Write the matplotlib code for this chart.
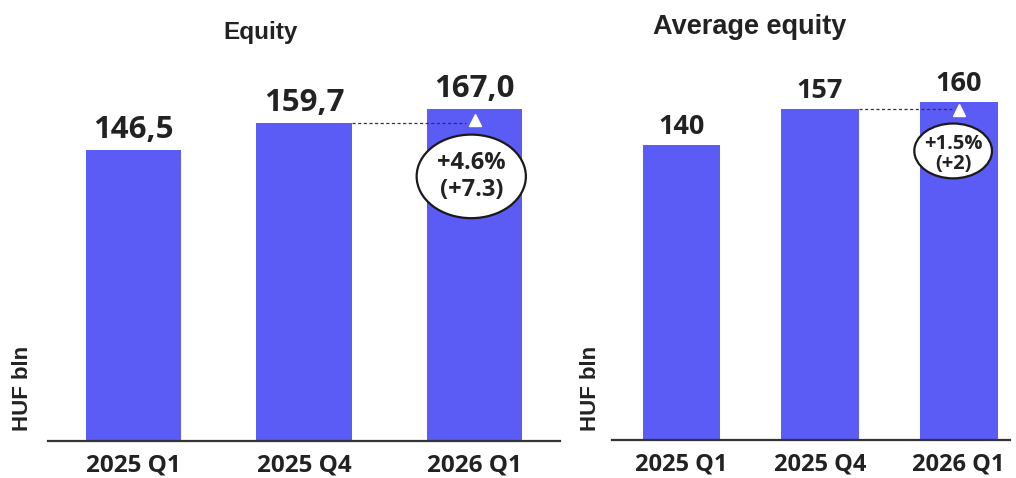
import matplotlib
matplotlib.use("Agg")
import matplotlib.pyplot as plt
from matplotlib.patches import Ellipse
from matplotlib import transforms

# Data
categories = ["2025 Q1", "2025 Q4", "2026 Q1"]
equity = [146.5, 159.7, 167.0]
equity_labels = ["146,5", "159,7", "167,0"]
equity_change = ["+4.6%", "(+7.3)"]
avg_equity = [140, 157, 160]
avg_equity_labels = ["140", "157", "160"]
avg_equity_change = ["+1.5%", "(+2)"]

BAR = "#5b5bf6"
TXT = "#222222"
NUM_FONT = ["Open Sans", "DejaVu Sans"]
HEAD_FONT = ["Liberation Sans", "DejaVu Sans"]

fig = plt.figure(figsize=(10.16, 4.78), dpi=100)


def panel(rect, values, labels, change, xlim, ylim, val_size, tick_size,
          ell_w, ell_h, ell_dx, ell_dy, chg_size, chg_dy, chg_shift, tri_dy):
    ax = fig.add_axes(rect)
    x = list(range(len(values)))
    w = 0.56
    ax.bar(x, values, width=w, color=BAR, zorder=2)
    ax.set_xlim(*xlim)
    ax.set_ylim(*ylim)
    for s in ("top", "left", "right"):
        ax.spines[s].set_visible(False)
    ax.spines["bottom"].set_color("#333333")
    ax.spines["bottom"].set_linewidth(1.6)
    ax.set_yticks([])
    ax.set_xticks(x)
    ax.set_xticklabels(categories, fontsize=tick_size, family=NUM_FONT,
                       fontweight="bold", color=TXT)
    ax.tick_params(axis="x", length=0, pad=9)

    for xi, v, lab in zip(x, values, labels):
        ax.annotate(lab, (xi, v), xytext=(0, 5), textcoords="offset pixels",
                    ha="center", va="bottom", fontsize=val_size,
                    family=NUM_FONT, fontweight="bold", color=TXT)

    # dashed reference line from previous quarter to the latest bar
    prev = values[-2]
    ax.plot([x[-2] + w / 2, x[-1] - 0.05], [prev, prev], ls=(0, (2.5, 2)),
            color="#333333", lw=0.9, zorder=3)

    # upward triangle marker on the latest bar
    tri_tr = transforms.offset_copy(ax.transData, fig=fig, x=0, y=tri_dy,
                                    units="dots")
    ax.plot([x[-1]], [values[-1]], marker="^", color="white", ms=9,
            transform=tri_tr, zorder=4, mec="white")

    # change bubble
    cx = x[-1] + ell_dx
    cy = values[-1] + ell_dy
    ax.add_patch(Ellipse((cx, cy), ell_w, ell_h, facecolor="white",
                         edgecolor="#1a1a1a", lw=1.6, zorder=4))
    ax.text(cx, cy + chg_dy - chg_shift, change[0], ha="center", va="center",
            fontsize=chg_size, family=NUM_FONT, fontweight="bold",
            color=TXT, zorder=5)
    ax.text(cx, cy - chg_dy - chg_shift, change[1], ha="center", va="center",
            fontsize=chg_size, family=NUM_FONT, fontweight="bold",
            color=TXT, zorder=5)
    return ax


W, H = 1016, 478

ax1 = panel([48 / W, 37 / H, 512 / W, 381 / H], equity, equity_labels,
            equity_change, (-0.5, 2.5), (0, 191.5), 22.5, 17.5,
            0.64, 42, -0.02, -34, 17, 6.8, 0, -11)

ax2 = panel([612 / W, 38 / H, 398 / W, 380 / H], avg_equity, avg_equity_labels,
            avg_equity_change, (-0.5, 2.37), (0, 180.1), 19.5, 17,
            0.56, 26, -0.04, -23, 14.5, 4.6, 1.5, -8)

fig.text(261 / W, 1 - 32 / H, "Equity", ha="center", va="center",
         fontsize=17.5, fontweight="bold", family=HEAD_FONT, color=TXT)
fig.text(750 / W, 1 - 27 / H, "Average equity", ha="center", va="center",
         fontsize=19.5, fontweight="bold", family=HEAD_FONT, color=TXT)
fig.text(22 / W, 1 - 388 / H, "HUF bln", ha="center", va="center",
         rotation=90, fontsize=16, fontweight="bold", family=HEAD_FONT,
         color=TXT)
fig.text(590 / W, 1 - 388 / H, "HUF bln", ha="center", va="center",
         rotation=90, fontsize=16, fontweight="bold", family=HEAD_FONT,
         color=TXT)

fig.savefig("out.png", dpi=100, facecolor="white")
